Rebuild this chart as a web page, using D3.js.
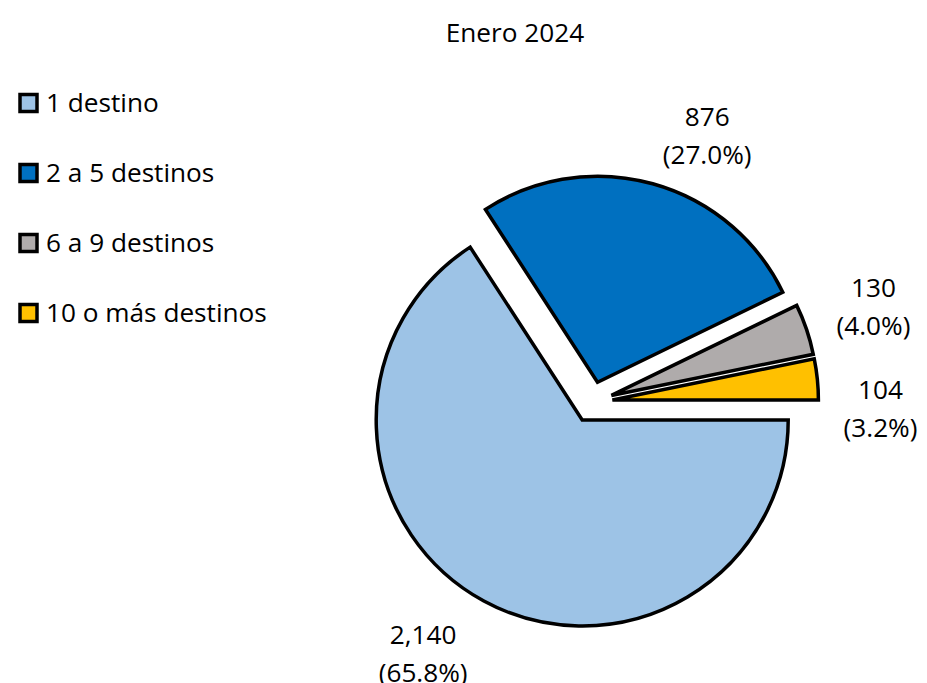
<!DOCTYPE html>
<html>
<head>
<meta charset="utf-8">
<script src="https://cdn.jsdelivr.net/npm/d3@7"></script>
<style>
  html, body { margin: 0; padding: 0; background: #fff; }
  text { font-family: "Open Sans", "Lato", sans-serif; fill: #000; }
</style>
</head>
<body>
<svg id="chart" width="927" height="683"></svg>
<script>
const title = "Enero 2024";
const categories = ["1 destino", "2 a 5 destinos", "6 a 9 destinos", "10 o más destinos"];
const values = [2140, 876, 130, 104];
const valueLabels = ["2,140", "876", "130", "104"];
const percentLabels = ["(65.8%)", "(27.0%)", "(4.0%)", "(3.2%)"];
const colors = ["#9DC3E6", "#0070C0", "#AFABAB", "#FFC000"];

const W = 927, H = 683;
const svg = d3.select("#chart");
const cx = 592, cy = 402, r = 206, explode = 20.5, labelR = 295;
const fs = 26.2;
const nudges = [[-28, -7], [36, 18], [2, 0], [-5, 36]];

svg.append("text")
  .attr("x", 515).attr("y", 42)
  .attr("text-anchor", "middle")
  .attr("font-size", fs)
  .text(title);

const data = categories.map((c, i) => ({ cat: c, value: values[i], i }));
const pie = d3.pie().value(d => d.value).sort(null)
  .startAngle(Math.PI / 2).endAngle(Math.PI / 2 + 2 * Math.PI);
const arcs = pie(data);
const arc = d3.arc().innerRadius(0).outerRadius(r);

const g = svg.append("g").attr("transform", `translate(${cx},${cy})`);
g.selectAll("path.slice").data(arcs).enter().append("path")
  .attr("class", "slice")
  .attr("d", arc)
  .attr("fill", d => colors[d.data.i])
  .attr("stroke", "#000")
  .attr("stroke-width", 3.5)
  .attr("stroke-linejoin", "miter")
  .attr("transform", d => {
    const m = (d.startAngle + d.endAngle) / 2;
    return `translate(${explode * Math.sin(m)},${-explode * Math.cos(m)})`;
  });

const lbl = g.selectAll("g.lbl").data(arcs).enter().append("g")
  .attr("class", "lbl")
  .attr("transform", d => {
    const m = (d.startAngle + d.endAngle) / 2;
    const n = nudges[d.data.i];
    return `translate(${labelR * Math.sin(m) + n[0]},${-labelR * Math.cos(m) + n[1]})`;
  });
lbl.append("text").attr("text-anchor", "middle").attr("font-size", fs)
  .attr("y", -19).attr("dy", "0.35em").text(d => valueLabels[d.data.i]);
lbl.append("text").attr("text-anchor", "middle").attr("font-size", fs)
  .attr("y", 19).attr("dy", "0.35em").text(d => percentLabels[d.data.i]);

const leg = svg.append("g");
const items = leg.selectAll("g").data(categories).enter().append("g")
  .attr("transform", (d, i) => `translate(0,${103 + i * 70})`);
items.append("rect")
  .attr("x", 20).attr("y", -8.5).attr("width", 17).attr("height", 17)
  .attr("fill", (d, i) => colors[i])
  .attr("stroke", "#000").attr("stroke-width", 3.5);
items.append("text")
  .attr("x", 46).attr("y", 0).attr("dy", "0.35em")
  .attr("font-size", fs)
  .text(d => d);
</script>
</body>
</html>
